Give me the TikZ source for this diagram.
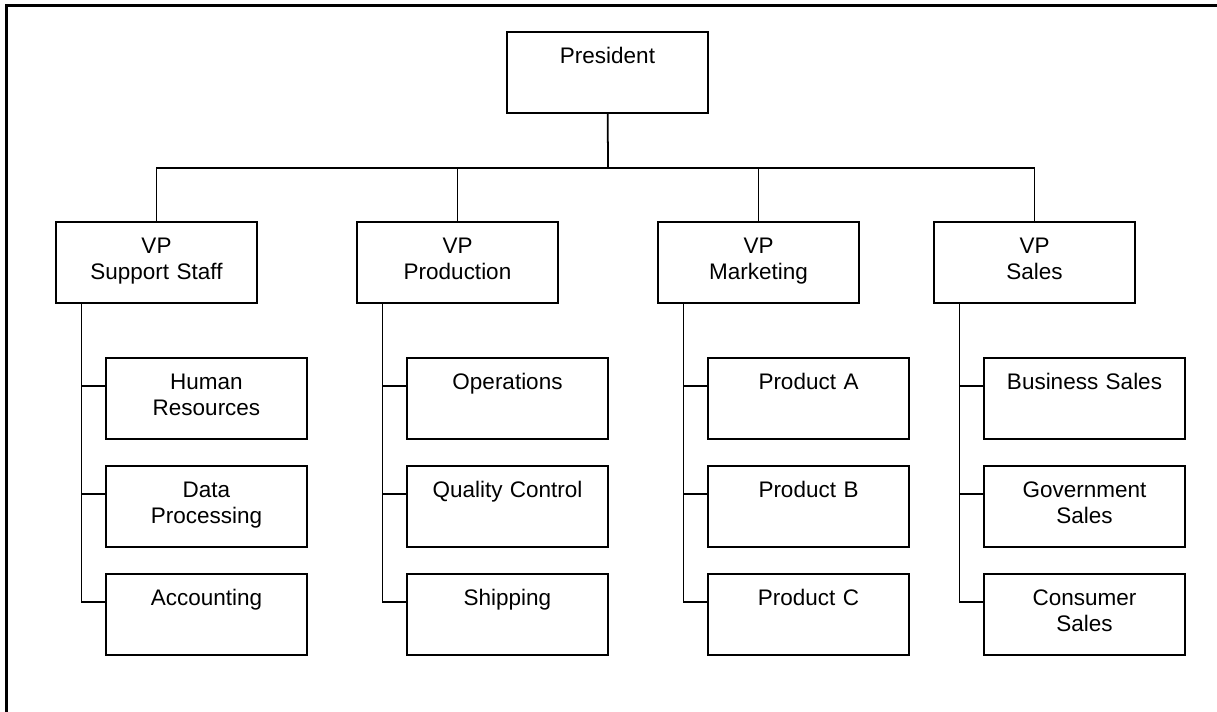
\documentclass[tikz,border=0pt]{standalone}
\usepackage{fontspec}
\setmainfont{Liberation Sans}
\usetikzlibrary{positioning}

\begin{document}
\begin{tikzpicture}[
      unit/.style={rectangle, draw, line width=1.3pt, inner sep=0pt, outer sep=0pt, text width=4.02cm, align=center, text height=0.62cm, text depth=1.0cm, font=\fontsize{12.8}{14.8}\selectfont},
      sub/.style={unit, below=0.54cm of #1},
      link/.style={line width=1pt}
      ]

      \useasboundingbox (0,0) rectangle (24.34,-14.22);

      % Frame
      \draw[line width=1.3pt] (0.13,-14.5) -- (0.13,-0.11) -- (24.5,-0.11);

      % Nodes
      \node[unit, anchor=north west] (pres) at (10.14,-0.64) {President};

      \node[unit, anchor=north west] (vpstaff) at (1.12,-4.44) {VP\\Support Staff};
      \node[unit, anchor=north west] (vpprod) at (7.14,-4.44) {VP\\Production};
      \node[unit, anchor=north west] (vpmkt) at (13.16,-4.44) {VP\\Marketing};
      \node[unit, anchor=north west] (vpsales) at (18.68,-4.44) {VP\\Sales};

      \node[unit, below=1.1cm of vpstaff, xshift=1cm] (hr) {Human\\Resources};
      \node[sub=hr] (dp) {Data\\Processing};
      \node[sub=dp] (acct) {Accounting};

      \node[unit, below=1.1cm of vpprod, xshift=1cm] (ops) {Operations};
      \node[sub=ops] (qc) {Quality Control};
      \node[sub=qc] (ship) {Shipping};

      \node[unit, below=1.1cm of vpmkt, xshift=1cm] (proda) {Product A};
      \node[sub=proda] (prodb) {Product B};
      \node[sub=prodb] (prodc) {Product C};

      \node[unit, below=1.1cm of vpsales, xshift=1cm] (bizsales) {Business Sales};
      \node[sub=bizsales] (govsales) {Government\\Sales};
      \node[sub=govsales] (conssales) {Consumer\\Sales};

      \coordinate (bus) at (12.16,-3.36);

      % Lines
      \draw[link] (pres) -- (bus);
      \draw[link] (vpstaff.north) |- (bus) -| (vpsales.north);
      \draw[link] (vpprod.north) -- (vpprod.north |- bus);
      \draw[link] (vpmkt.north) -- (vpmkt.north |- bus);

      \draw[link] ([xshift=0.51cm]vpstaff.south west) |- ([yshift=-0.56cm]acct.north west);
      \draw[link] ([yshift=-0.56cm]hr.north west) -- +(-0.49,0);
      \draw[link] ([yshift=-0.56cm]dp.north west) -- +(-0.49,0);

      \draw[link] ([xshift=0.51cm]vpprod.south west) |- ([yshift=-0.56cm]ship.north west);
      \draw[link] ([yshift=-0.56cm]ops.north west) -- +(-0.49,0);
      \draw[link] ([yshift=-0.56cm]qc.north west) -- +(-0.49,0);

      \draw[link] ([xshift=0.51cm]vpmkt.south west) |- ([yshift=-0.56cm]prodc.north west);
      \draw[link] ([yshift=-0.56cm]proda.north west) -- +(-0.49,0);
      \draw[link] ([yshift=-0.56cm]prodb.north west) -- +(-0.49,0);

      \draw[link] ([xshift=0.51cm]vpsales.south west) |- ([yshift=-0.56cm]conssales.north west);
      \draw[link] ([yshift=-0.56cm]bizsales.north west) -- +(-0.49,0);
      \draw[link] ([yshift=-0.56cm]govsales.north west) -- +(-0.49,0);

    \end{tikzpicture}
\end{document}
